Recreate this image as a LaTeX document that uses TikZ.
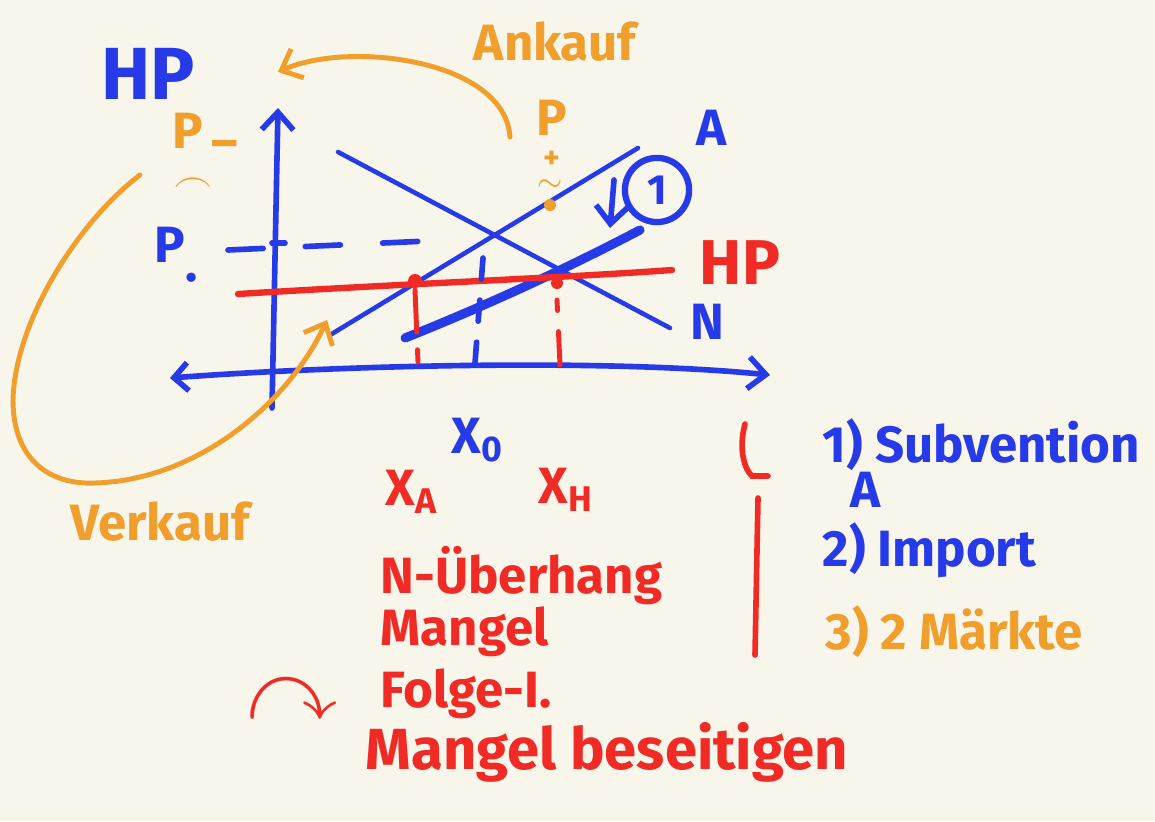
\documentclass[tikz,border=0pt]{standalone}
\usepackage{amssymb}
\usepackage{fontspec}
\setmainfont{Fira Sans}
\usetikzlibrary{arrows.meta}

\definecolor{penblue}{RGB}{38,58,232}
\definecolor{penred}{RGB}{240,42,36}
\definecolor{penorange}{RGB}{240,158,44}
\definecolor{paper}{RGB}{248,245,234}

\tikzset{
  bluepen/.style={penblue, line width=1.6pt, line cap=round},
  redpen/.style={penred, line width=1.8pt, line cap=round},
  orangepen/.style={penorange, line width=1.4pt, line cap=round},
  barb/.style={-{Straight Barb[length=5pt,width=9pt]}},
  handtxt/.style={inner sep=0pt, font=\fontsize{14.5}{17}\selectfont\bfseries},
  bluetxt/.style={handtxt, text=penblue},
  redtxt/.style={handtxt, text=penred},
  orangetxt/.style={handtxt, text=penorange},
  marktxt/.style={orangetxt, font=\fontsize{9}{10}\selectfont\bfseries}
}

\begin{document}
\begin{tikzpicture}[x=0.01cm,y=-0.01cm]

\fill[paper] (0,0) rectangle (1155,821);
\useasboundingbox (0,0) rectangle (1155,821);

% Title
\node[bluetxt, font=\fontsize{21}{24}\selectfont\bfseries] (title) at (148,74) {HP};

% Axes
\draw[bluepen, barb] (272,408) -- (278,108);
\draw[bluepen, {Straight Barb[length=4pt,width=8pt]}-{Straight Barb[length=5pt,width=9pt]}]
  (170,378) .. controls (330,366) and (600,358) .. (770,375);

% Demand N and supply A
\draw[bluepen, line width=1.3pt] (338,152) -- (670,328);
\node[bluetxt] (labN) at (707,322) {N};
\draw[bluepen, line width=1.3pt] (330,335) -- (638,148);
\node[bluetxt] (labA) at (712,128) {A};

% Shifted supply
\draw[bluepen, line width=2.6pt] (405,338) .. controls (480,308) and (560,272) .. (640,230);
\draw[bluepen, barb] (614,180) -- (610,228);
\node[bluetxt, draw=penblue, circle, line width=1.8pt, inner sep=3pt,
  font=\fontsize{12}{14}\selectfont\bfseries] (one) at (657,190) {1};

% World price HP
\draw[redpen] (238,294) .. controls (400,284) and (560,278) .. (672,270);
\node[redtxt, font=\fontsize{18}{20}\selectfont\bfseries] (labHP) at (740,263) {HP};
\fill[penred] (415,281) circle (7);
\fill[penred] (557,283) circle (6);
\fill[penorange] (550,205) circle (6);

% Guides
\draw[bluepen, dash pattern=on 10pt off 12pt] (228,250) -- (450,240);
\draw[bluepen] (272,243) -- (285,243);
\draw[bluepen, dash pattern=on 6pt off 6pt] (483,258) -- (474,376);
\draw[redpen, line width=1.4pt, dash pattern=on 12pt off 5pt] (415,290) -- (418,362);
\draw[redpen, line width=1.4pt, dash pattern=on 3pt off 6pt on 12pt off 5pt] (557,300) -- (560,365);

% Prices
\node[bluetxt] (pnull) at (176,255) {P\raisebox{-0.7ex}{.}};
\node[orangetxt] (pplus) at (552,118) {P};
\node[marktxt] (pplusb) at (552,160) {+};
\node[marktxt] (pplusc) at (550,186) {$\sim$};
\node[orangetxt] (pminus) at (205,136) {P\raisebox{-0.4ex}{\,–}};
\node[marktxt, font=\fontsize{11}{12}\selectfont] (pmark) at (193,186) {$\frown$};

% Buy and sell
\draw[orangepen, barb] (510,137) .. controls (505,60) and (350,40) .. (278,72);
\node[orangetxt] (ankauf) at (555,42) {Ankauf};
\draw[orangepen, barb] (140,175) .. controls (80,220) and (15,320) .. (13,400)
  .. controls (13,460) and (50,485) .. (95,483)
  .. controls (200,480) and (290,400) .. (327,320);
\node[orangetxt] (verkauf) at (160,522) {Verkauf};

% Quantities
\node[bluetxt] (xnull) at (478,440) {X\textsubscript{0}};
\node[redtxt] (xa) at (412,492) {X\textsubscript{A}};
\node[redtxt] (xh) at (566,490) {X\textsubscript{H}};

% Red bracket
\draw[redpen, line width=1.6pt] (745,424) .. controls (738,450) and (745,470) .. (752,476) -- (768,476);
\draw[redpen, line width=1.6pt] (758,498) -- (755,655);

% Measures
\node[bluetxt, anchor=west] (m1) at (822,445) {1)\ Subvention};
\node[bluetxt, anchor=west] (m1b) at (850,490) {A};
\node[bluetxt, anchor=west] (m2) at (822,550) {2)\ Import};
\node[orangetxt, anchor=west] (m3) at (825,632) {3)\ 2 Märkte};

% Consequences
\node[redtxt, anchor=west] (ueber) at (380,576) {N-Überhang};
\node[redtxt, anchor=west] (mangel) at (380,632) {Mangel};
\node[redtxt, font=\fontsize{26}{28}\selectfont] (folgearr) at (292,700) {$\curvearrowright$};
\node[redtxt, anchor=west] (folge) at (380,694) {Folge-I.};
\node[redtxt, anchor=west, font=\fontsize{16.5}{19}\selectfont\bfseries] (beseit) at (365,752) {Mangel beseitigen};

\end{tikzpicture}
\end{document}
